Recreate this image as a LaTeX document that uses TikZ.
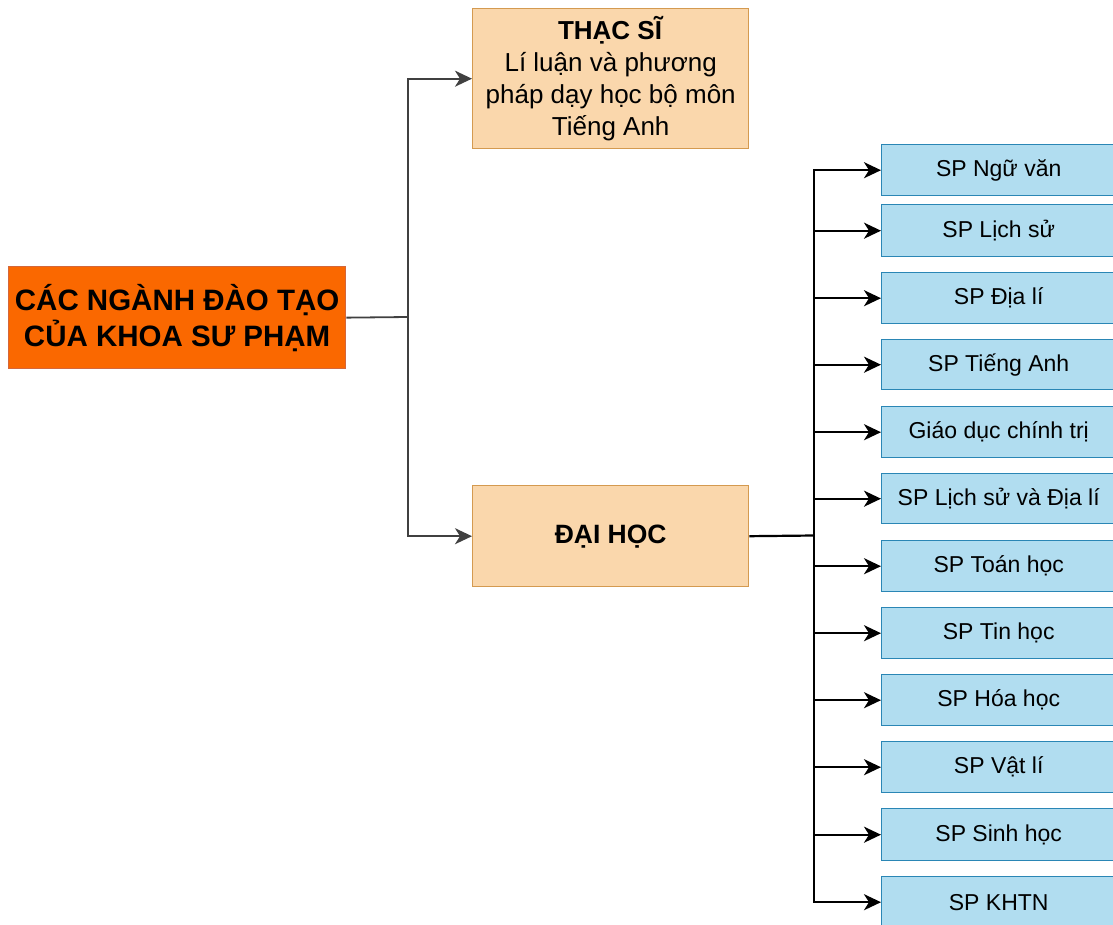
\documentclass[tikz,border=0pt]{standalone}
\usepackage{fontspec}
\setmainfont{Liberation Sans}
\usetikzlibrary{arrows.meta}
\definecolor{rootfill}{HTML}{FA6800}
\definecolor{rootdraw}{HTML}{D4673A}
\definecolor{lvlfill}{HTML}{FAD7AC}
\definecolor{lvldraw}{HTML}{D49A50}
\definecolor{leaffill}{HTML}{B1DDF0}
\definecolor{leafdraw}{HTML}{2A86B5}
\begin{document}
\begin{tikzpicture}[x=1pt,y=-1pt,
  rootbox/.style={draw=rootdraw,fill=rootfill,line width=1.3pt,anchor=north west,inner sep=0pt,
    align=center,font=\fontsize{29.5}{36}\selectfont\bfseries},
  lvlbox/.style={draw=lvldraw,fill=lvlfill,line width=1.4pt,anchor=north west,inner sep=0pt,align=center},
  leafbox/.style={draw=leafdraw,fill=leaffill,line width=1.4pt,anchor=north west,inner sep=0pt,
    minimum width=234pt,minimum height=51pt,font=\fontsize{23}{26}\selectfont},
  conn/.style={draw=black!75,line width=1.8pt},
  connr/.style={draw=black,line width=2.2pt},
  tip/.style={-{Stealth[length=17pt,width=16pt,inset=5pt]}}
]
\useasboundingbox (0,0) rectangle (1113,925);

\node[rootbox,minimum width=337pt,minimum height=102pt] (root) at (8,266)
  {CÁC NGÀNH ĐÀO TẠO\\CỦA KHOA SƯ PHẠM};

\node[lvlbox,minimum width=276pt,minimum height=140pt,font=\fontsize{26}{32}\selectfont] (ths) at (472,8)
  {\textbf{THẠC SĨ}\\Lí luận và phương\\pháp dạy học bộ môn\\Tiếng Anh};

\node[lvlbox,minimum width=276pt,minimum height=101pt,font=\fontsize{26.5}{32}\selectfont\bfseries] (dh) at (472,485)
  {ĐẠI HỌC};

\coordinate (j1) at (408,317);
\draw[conn] (root.east) -- (j1);
\draw[conn,tip] (j1) |- (ths.west);
\draw[conn,tip] (j1) |- (dh.west);

\node[leafbox] (b1) at (881,144) {SP Ngữ văn};
\node[leafbox,minimum height=52pt] (b2) at (881,204) {SP Lịch sử};
\node[leafbox] (b3) at (881,272) {SP Địa lí};
\node[leafbox,minimum height=50pt] (b4) at (881,339) {SP Tiếng Anh};
\node[leafbox] (b5) at (881,406) {Giáo dục chính trị};
\node[leafbox,minimum height=50pt] (b6) at (881,473) {SP Lịch sử và Địa lí};
\node[leafbox] (b7) at (881,540) {SP Toán học};
\node[leafbox] (b8) at (881,607) {SP Tin học};
\node[leafbox] (b9) at (881,674) {SP Hóa học};
\node[leafbox] (b10) at (881,741) {SP Vật lí};
\node[leafbox,minimum height=52pt] (b11) at (881,808) {SP Sinh học};
\node[leafbox] (b12) at (881,876) {SP KHTN};

\coordinate (j2) at (814,535.5);
\draw[connr] (dh.east) -- (j2);
\foreach \b in {b1,b2,b3,b4,b5,b6,b7,b8,b9,b10,b11,b12}{
  \draw[connr,tip] (j2) |- (\b.west);
}
\end{tikzpicture}
\end{document}
